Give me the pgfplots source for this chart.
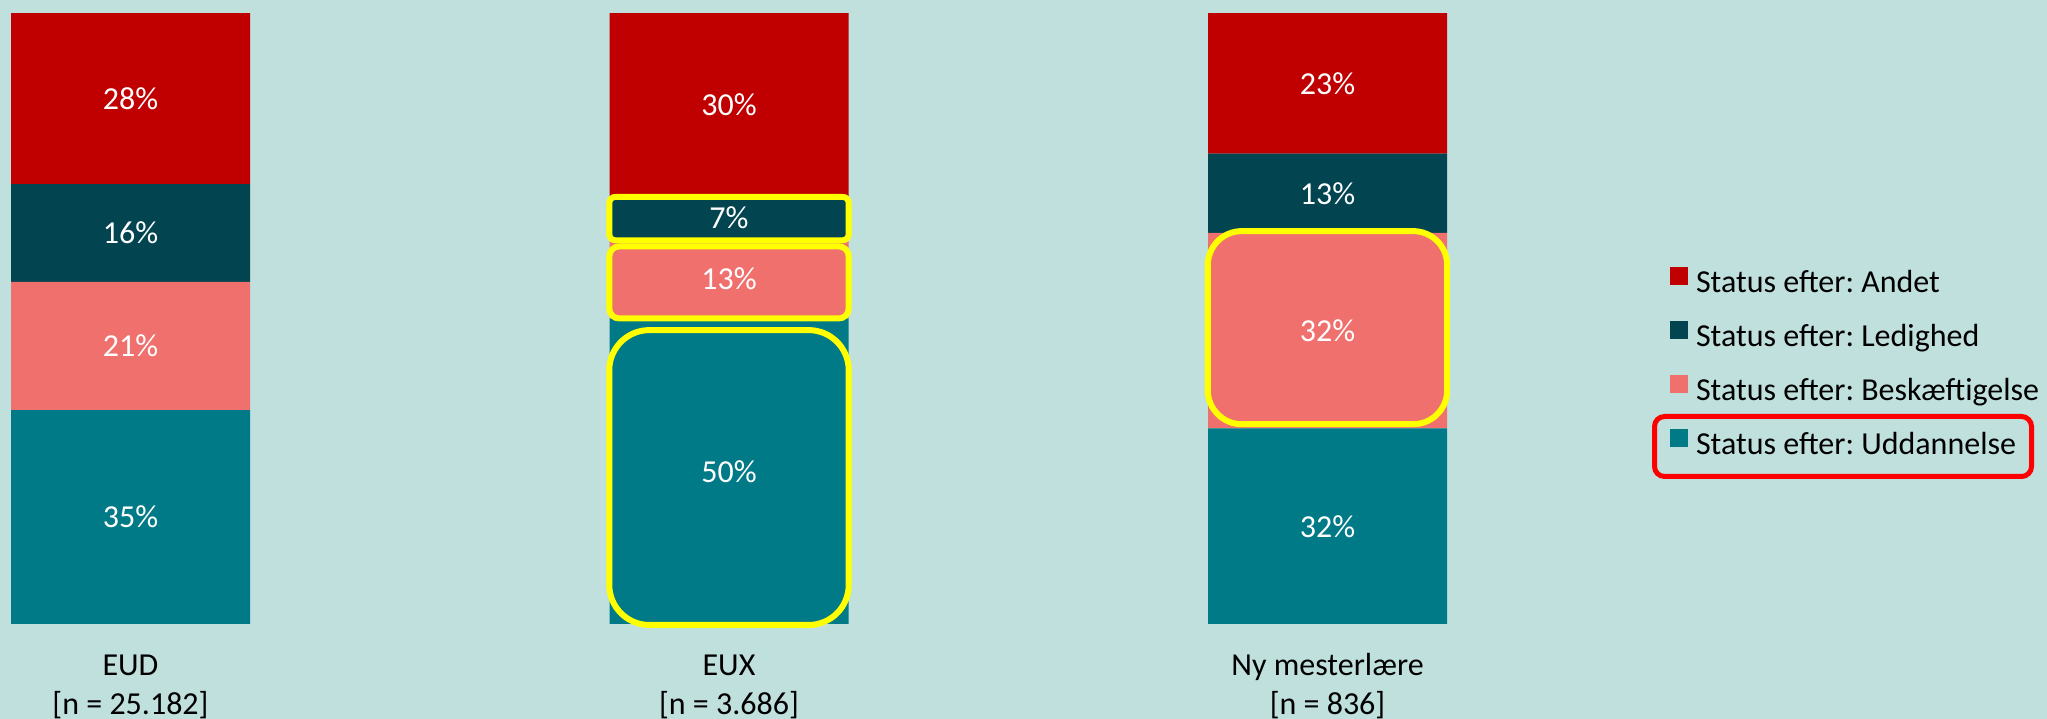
\documentclass[border=0pt]{standalone}
\usepackage{pgfplots}
\pgfplotsset{compat=1.18}
\usepackage{fontspec}
\setmainfont{Carlito}
\frenchspacing
\definecolor{bgc}{RGB}{192,224,222}
\definecolor{andet}{RGB}{192,0,0}
\definecolor{ledig}{RGB}{2,68,80}
\definecolor{besk}{RGB}{240,112,110}
\definecolor{udd}{RGB}{0,122,135}
\definecolor{hlyellow}{RGB}{255,255,0}
\definecolor{rboxc}{RGB}{255,0,0}
\newcommand{\myfont}{\fontsize{16}{19.2}\selectfont\frenchspacing}
\pgfplotsset{
  sqlegend/.style={legend image code/.code={\fill[##1,draw=none] (0pt,0pt) rectangle (9pt,9pt);}},
  samebox/.style={scale only axis, width=1023.5pt, height=359.5pt,
    xmin=-0.21805, xmax=3.20217, ymin=-15.548, ymax=102.128, clip=false},
}
\tikzset{
  vlab/.style={font=\myfont, text=white},
  clab/.style={font=\myfont, text=black, anchor=base, inner sep=0pt},
}
\begin{document}
\begin{tikzpicture}
\begin{axis}[
  name=ax,
  samebox,
  ybar stacked, bar width=119.5pt,
  axis background/.style={fill=bgc},
  axis line style={draw=none},
  xtick=\empty, ytick=\empty,
  legend style={at={(axis cs:2.5723,58.43)}, anchor=north west, draw=none, fill=none,
    inner sep=0pt, outer sep=0pt, row sep=10.7pt, column sep=4pt, font=\myfont,
    nodes={inner sep=0pt, text height=11pt, text depth=3.5pt}},
  legend cell align=left,
  reverse legend,
  sqlegend,
]
\addplot[fill=udd, draw=none] coordinates {(0,35) (1,50) (2,32)};
\addplot[fill=besk, draw=none] coordinates {(0,21) (1,13) (2,32)};
\addplot[fill=ledig, draw=none] coordinates {(0,16) (1,7) (2,13)};
\addplot[fill=andet, draw=none] coordinates {(0,28) (1,30) (2,23)};
\legend{Status efter: Uddannelse, Status efter: Beskæftigelse, Status efter: Ledighed, Status efter: Andet}
\end{axis}
\begin{axis}[samebox, hide axis]
\node[vlab] at (axis cs:0,17.5) {35\%};
\node[vlab] at (axis cs:0,45.5) {21\%};
\node[vlab] at (axis cs:0,64) {16\%};
\node[vlab] at (axis cs:0,86) {28\%};
\node[vlab] at (axis cs:1,25) {50\%};
\node[vlab] at (axis cs:1,56.5) {13\%};
\node[vlab] at (axis cs:1,66.5) {7\%};
\node[vlab] at (axis cs:1,85) {30\%};
\node[vlab] at (axis cs:2,16) {32\%};
\node[vlab] at (axis cs:2,48) {32\%};
\node[vlab] at (axis cs:2,70.5) {13\%};
\node[vlab] at (axis cs:2,88.5) {23\%};

\node[clab] at (axis cs:0,-8.35) {EUD};
\node[clab] at (axis cs:0,-14.89) {[n = 25.182]};
\node[clab] at (axis cs:1,-8.35) {EUX};
\node[clab] at (axis cs:1,-14.89) {[n = 3.686]};
\node[clab] at (axis cs:2,-8.35) {Ny mesterlære};
\node[clab] at (axis cs:2,-14.89) {[n = 836]};

\draw[hlyellow, line width=3pt, rounded corners=3pt] (axis cs:0.8,62.8) rectangle (axis cs:1.2,69.9);
\draw[hlyellow, line width=3pt, rounded corners=5pt] (axis cs:0.8,50.0) rectangle (axis cs:1.2,61.8);
\draw[hlyellow, line width=3pt, rounded corners=20pt] (axis cs:0.8,-0.16) rectangle (axis cs:1.2,48.1);
\draw[hlyellow, line width=3pt, rounded corners=17pt] (axis cs:1.8,32.7) rectangle (axis cs:2.2,64.3);
\draw[rboxc, line width=2.5pt, rounded corners=5pt] (axis cs:2.5464,24.14) rectangle (axis cs:3.1763,33.96);
\end{axis}
\pgfresetboundingbox
\path[use as bounding box] (ax.south west) rectangle (ax.north east);
\end{tikzpicture}
\end{document}
